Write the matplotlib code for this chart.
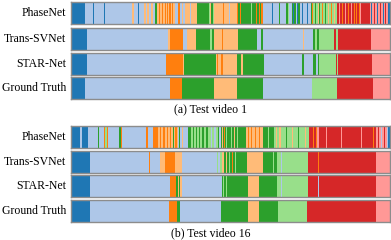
import matplotlib
matplotlib.use("Agg")
import matplotlib.pyplot as plt

plt.rcParams['font.family'] = ['Liberation Serif', 'DejaVu Serif']

# phase colours (0..7)
colors = ['#1f77b4', '#aec7e8', '#ff7f0e', '#ffbb78',
          '#2ca02c', '#98df8a', '#d62728', '#ff9896']
DB, LB, O, LO, G, LG, R, LR = range(8)

video_len = 319
methods = ['PhaseNet', 'Trans-SVNet', 'STAR-Net', 'Ground Truth']
captions = ['(a) Test video 1', '(b) Test video 16']

# ---- test video 1: (start, phase) ----
v1_phasenet = [(0, DB), (14, LB), (22, DB), (22.8, LB), (33, DB), (34.2, LB),
               (61, LO), (63, LB), (67, DB), (68, LB), (73, LO), (75, LB), (76, LO),
               (78, LB), (80, LO), (82, LB), (84, G), (85.5, LO), (88, O), (89, LO),
               (91, O), (92, LO), (94, O), (95, LO), (96, O), (97, LO), (98, O),
               (99.5, LO), (101, O), (102, LO), (104, LB), (107, O), (109, LB),
               (111, LO), (112, LB), (114, LO), (119, LB), (120, LO), (126, G),
               (138, LG), (139, LO), (140, G), (141.5, LG), (143, LO), (152, O),
               (153, LO), (158, LB), (159, LO), (166, O), (167, G), (169, O),
               (170, G), (180, LG), (181, G), (185, O), (186, G), (188, O), (189, G),
               (190, O), (192, LB), (201, DB), (202, LB), (208, G), (209, LB),
               (215, G), (216.5, LG), (218, LB), (221, G), (222, DB), (223, G),
               (225, LB), (226, DB), (227, G), (229, LB), (231, DB), (232, LB),
               (236, DB), (237, LB), (240, G), (241, O), (242, LG), (244, G),
               (245, LG), (247, LO), (248, G), (249, LG), (251, O), (252, LG),
               (254, G), (255, LG), (257, LO), (258, LG), (260, O), (261, LG),
               (263, LO), (264, LG), (266, R), (268, LR), (269, R), (271, O),
               (272, R), (274, LR), (275, R), (277, O), (278, R), (280, LR),
               (281, R), (283, O), (284, R), (285, O), (286, R), (288, O),
               (289, LR), (290, R), (299, LR), (300, DB), (301, LR), (303, R),
               (304, LR), (306, DB), (307, LR), (309, R), (310, LR), (312, DB),
               (313, LR), (314, R), (315, LR), (317, DB)]
v1_transsvnet = [(0, DB), (16, LB), (97, LO), (99, O), (112, LB), (116, LO),
                 (125, G), (139, LG), (141, G), (143, LO), (150.5, O), (152, LO),
                 (167, G), (186, LB), (190, G), (192, LB), (231.5, LO), (233, LB),
                 (242, G), (244, LG), (246, G), (248, LG), (263, R), (265, LG),
                 (267, R), (300, LR)]
v1_starnet = [(0, DB), (16, LB), (95, O), (112, LO), (113, G), (145, LO),
              (146, O), (147, LO), (150, O), (152, LO), (166, G), (170, LO),
              (171.5, G), (193, LB), (231, G), (233, LB), (242, G), (245, LB),
              (246.5, G), (248, LG), (265, R), (266, LG), (267, R), (301, LR)]
v1_gt = [(0, DB), (14, LB), (99, O), (111, G), (143, LO), (166, G), (192, LB),
         (241, LG), (266, R), (302, LR)]

# ---- test video 16 ----
v16_phasenet = [(0, DB), (9, LB), (10.5, DB), (17, LB), (27, G), (28, LB),
                (33, O), (34, LG), (36, O), (37, LB), (48, G), (49.5, O), (51, LB),
                (75, O), (77, LB), (82, O), (85, O), (87, LO), (89, O), (90, LO),
                (92, O), (94, LO), (96, O), (97, LO), (99, O), (100, LO), (102, G),
                (103, LO), (104, O), (106, LO), (107, LB), (108, G), (109, LB),
                (111, LO), (112, LB), (117, G), (120, LG), (122, G), (123, LG),
                (125, G), (126, LG), (128, G), (129, LG), (131, G), (133, LG),
                (135, G), (137, LG), (140, LB), (141, LG), (143, LB), (145, LG),
                (147, G), (148, LB), (150, G), (151, LO), (152, G), (153, O),
                (154, G), (155, LG), (156, G), (160, LG), (161, G), (163, LO),
                (164, G), (166, LG), (167, G), (175, LO), (177, O), (178, LO),
                (180, O), (181, LO), (184, O), (185, LO), (188, O), (189, LO),
                (192, G), (197, LG), (198, G), (203, LG), (205, LO), (206, LG),
                (208, LO), (210, LG), (215, G), (216, LG), (221, LO), (222, LG),
                (227, G), (228, LG), (234, LO), (235, LG), (238, R), (242, O),
                (243, R), (245, O), (246, LR), (248, R), (255, LR), (256, R),
                (270, LR), (271, R), (290, LR), (291, R), (302, O), (303, R),
                (305, LR), (307, R), (308, LR), (310, LB), (311, LR), (313, R),
                (314, LR), (316, LB), (317, DB)]
v16_transsvnet = [(0, DB), (19, LB), (78, O), (79, LB), (89, LO), (94, O),
                  (104, LO), (111, LB), (146, LG), (147, LB), (149, LG), (151, LO),
                  (153, G), (155, LO), (156, G), (158, LG), (159, G), (161, O),
                  (162, G), (164, LG), (165, G), (176, LO), (192, G), (202, LG),
                  (203, G), (206, LG), (210, LB), (211, LG), (237, R), (247, O),
                  (248, R), (305, LR)]
v16_starnet = [(0, DB), (19, LB), (99, O), (105, G), (107, LO), (108, G),
               (109, LO), (111, LB), (151, G), (152, LG), (153, G), (155, LG),
               (156, G), (177, LO), (188, G), (206, LG), (210, LB), (211, LG),
               (237, R), (247, LB), (248, R), (305, LR)]
v16_gt = [(0, DB), (19, LB), (98, O), (106, G), (109, LB), (150, G), (177, LO),
          (188, G), (207, LG), (236, R), (305, LR)]

panels = [[v1_phasenet, v1_transsvnet, v1_starnet, v1_gt],
          [v16_phasenet, v16_transsvnet, v16_starnet, v16_gt]]

W, H = 391, 240
fig = plt.figure(figsize=(W / 100, H / 100), dpi=100)

row_tops = [[2, 28, 53, 77], [126, 151, 175, 200]]
row_h = 22
cap_y = [109, 233]

for p, rows in enumerate(panels):
    for r, segs in enumerate(rows):
        top = row_tops[p][r]
        ax = fig.add_axes([71 / W, 1 - (top + row_h) / H, 319 / W, row_h / H])
        starts = [s for s, _ in segs]
        ends = starts[1:] + [video_len]
        widths = [e - s for s, e in zip(starts, ends)]
        cols = [colors[c] for _, c in segs]
        ax.barh(0, widths, left=starts, height=1, color=cols, linewidth=0)
        ax.set_xlim(0, video_len)
        ax.set_ylim(-0.5, 0.5)
        ax.set_xticks([])
        ax.set_yticks([])
        for s in ax.spines.values():
            s.set_color('#8c8c8c')
            s.set_linewidth(1.0)
        fig.text(66 / W, 1 - (top + row_h / 2) / H, methods[r],
                 ha='right', va='center', fontsize=8.5)
    fig.text(211 / W, 1 - cap_y[p] / H, captions[p], ha='center', va='center',
             fontsize=8.5)

fig.savefig('out.png', dpi=100)
